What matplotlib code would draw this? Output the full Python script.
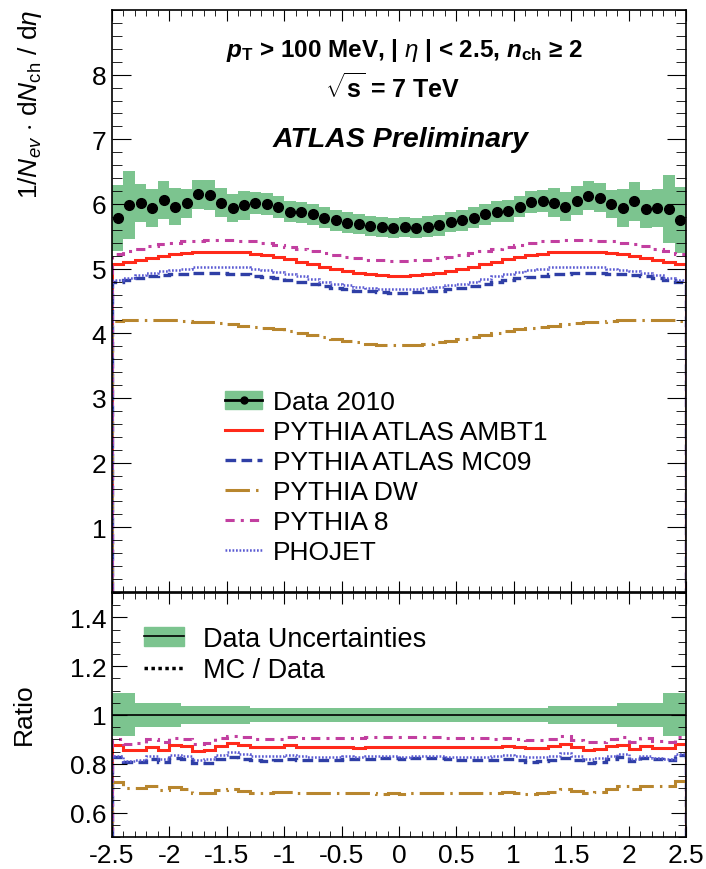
# ATLAS charged particle pseudorapidity distribution with MC / Data ratio
import numpy as np
import matplotlib.pyplot as plt
from matplotlib.patches import Patch
from matplotlib.lines import Line2D
from matplotlib.ticker import MultipleLocator

plt.rcParams['font.family'] = ['Liberation Sans', 'DejaVu Sans']
plt.rcParams['mathtext.fontset'] = 'custom'
plt.rcParams['mathtext.rm'] = 'Liberation Sans'
plt.rcParams['mathtext.it'] = 'Liberation Sans:italic'
plt.rcParams['mathtext.bf'] = 'Liberation Sans:bold'
plt.rcParams['mathtext.bfit'] = 'Liberation Sans:bold:italic'

# eta binning (50 bins of 0.1)
eta_edges = np.linspace(-2.5, 2.5, 51)
eta_centers = 0.5 * (eta_edges[:-1] + eta_edges[1:])

# Data 2010 (1/Nev dNch/deta)
data = [5.79, 5.98, 6.01, 5.94, 6.06, 5.96, 6.01, 6.15, 6.14, 6.02,
        5.94, 5.98, 6.01, 6.00, 5.95, 5.88, 5.87, 5.84, 5.79, 5.75,
        5.71, 5.69, 5.66, 5.64, 5.63, 5.64, 5.63, 5.65, 5.67, 5.72,
        5.75, 5.79, 5.84, 5.88, 5.89, 5.96, 6.03, 6.04, 6.02, 5.96,
        6.05, 6.13, 6.10, 6.00, 5.94, 6.04, 5.92, 5.94, 5.92, 5.75]

# relative data uncertainty per bin
rel_err = [0.088, 0.088, 0.049, 0.049, 0.049, 0.049, 0.037, 0.037, 0.037, 0.037,
           0.037, 0.037, 0.028, 0.028, 0.028, 0.028, 0.028, 0.028, 0.028, 0.028,
           0.028, 0.028, 0.028, 0.028, 0.028, 0.028, 0.028, 0.028, 0.028, 0.028,
           0.028, 0.028, 0.028, 0.028, 0.028, 0.028, 0.028, 0.028, 0.037, 0.037,
           0.037, 0.037, 0.037, 0.037, 0.049, 0.049, 0.049, 0.049, 0.088, 0.088]

# MC predictions
ambt1 = [5.07, 5.11, 5.14, 5.17, 5.20, 5.22, 5.24, 5.25, 5.26, 5.26,
         5.26, 5.25, 5.23, 5.21, 5.18, 5.15, 5.11, 5.07, 5.03, 4.99,
         4.96, 4.93, 4.91, 4.90, 4.89, 4.89, 4.90, 4.91, 4.93, 4.96,
         4.99, 5.03, 5.07, 5.11, 5.15, 5.18, 5.21, 5.23, 5.25, 5.26,
         5.26, 5.26, 5.25, 5.24, 5.22, 5.20, 5.17, 5.14, 5.11, 5.07]
mc09 = [4.80, 4.83, 4.86, 4.88, 4.90, 4.91, 4.92, 4.93, 4.93, 4.93,
        4.92, 4.91, 4.89, 4.87, 4.85, 4.82, 4.79, 4.76, 4.73, 4.70,
        4.68, 4.66, 4.65, 4.64, 4.63, 4.63, 4.64, 4.65, 4.66, 4.68,
        4.70, 4.73, 4.76, 4.79, 4.82, 4.85, 4.87, 4.89, 4.91, 4.92,
        4.93, 4.93, 4.93, 4.92, 4.91, 4.90, 4.88, 4.86, 4.83, 4.80]
dw = [4.19, 4.20, 4.20, 4.20, 4.20, 4.20, 4.19, 4.18, 4.17, 4.16,
      4.14, 4.12, 4.10, 4.08, 4.06, 4.03, 4.00, 3.97, 3.94, 3.91,
      3.88, 3.86, 3.84, 3.82, 3.82, 3.82, 3.82, 3.84, 3.86, 3.88,
      3.91, 3.94, 3.97, 4.00, 4.03, 4.06, 4.08, 4.10, 4.12, 4.14,
      4.16, 4.17, 4.18, 4.19, 4.20, 4.20, 4.20, 4.20, 4.20, 4.19]
pythia8 = [5.22, 5.27, 5.31, 5.35, 5.38, 5.40, 5.42, 5.43, 5.44, 5.44,
           5.44, 5.43, 5.42, 5.40, 5.37, 5.34, 5.31, 5.28, 5.24, 5.21,
           5.18, 5.16, 5.14, 5.13, 5.12, 5.12, 5.13, 5.14, 5.16, 5.18,
           5.21, 5.24, 5.28, 5.31, 5.34, 5.37, 5.40, 5.42, 5.43, 5.44,
           5.44, 5.44, 5.43, 5.42, 5.40, 5.38, 5.35, 5.31, 5.27, 5.22]
phojet = [4.82, 4.86, 4.90, 4.93, 4.96, 4.98, 5.00, 5.02, 5.03, 5.03,
          5.03, 5.02, 5.00, 4.98, 4.95, 4.92, 4.88, 4.84, 4.80, 4.77,
          4.74, 4.72, 4.70, 4.69, 4.68, 4.68, 4.69, 4.70, 4.72, 4.74,
          4.77, 4.80, 4.84, 4.88, 4.92, 4.95, 4.98, 5.00, 5.02, 5.03,
          5.03, 5.03, 5.02, 5.00, 4.98, 4.96, 4.93, 4.90, 4.86, 4.82]

mc_labels = ['PYTHIA ATLAS AMBT1', 'PYTHIA ATLAS MC09', 'PYTHIA DW', 'PYTHIA 8', 'PHOJET']
mc_values = [ambt1, mc09, dw, pythia8, phojet]
mc_colors = ['#ff2a1a', '#2f3fa6', '#b8862e', '#c23fa0', '#5a5ad2']
mc_styles = ['-', (0, (3.2, 1.6)), (0, (8, 2, 0.8, 2)), (0, (3, 2, 1, 2)), (0, (0.7, 0.7))]
mc_widths = [2.2, 2.4, 2.2, 2.2, 1.8]

x_ticks = [-2.5, -2, -1.5, -1, -0.5, 0, 0.5, 1, 1.5, 2, 2.5]
x_ticklabels = ['-2.5', '-2', '-1.5', '-1', '-0.5', '0', '0.5', '1', '1.5', '2', '2.5']
band_color = '#7cc48f'

data = np.array(data)
rel_err = np.array(rel_err)

fig = plt.figure(figsize=(7.06, 8.70), dpi=100)
ax = fig.add_axes([0.1586, 0.3184, 0.8131, 0.669])
axr = fig.add_axes([0.1586, 0.0368, 0.8131, 0.2805])

# --- main panel ---
ax.stairs(data * (1 + rel_err), eta_edges, baseline=data * (1 - rel_err),
          fill=True, color=band_color, linewidth=0)
for vals, col, ls, lw in zip(mc_values, mc_colors, mc_styles, mc_widths):
    ax.stairs(vals, eta_edges, color=col, linestyle=ls, linewidth=lw)
ax.plot(eta_centers, data, 'o', color='black', markersize=7, zorder=5)

ax.set_xlim(-2.5, 2.5)
ax.set_ylim(0, 9)
ax.set_yticks(range(1, 9))
ax.yaxis.set_minor_locator(MultipleLocator(0.2))
ax.set_xticks(x_ticks)
ax.xaxis.set_minor_locator(MultipleLocator(0.1))
ax.tick_params(labelbottom=False)

fig.text(404 / 706, 1 - 51 / 870,
         r'$\mathbfit{p}_{\mathbf{T}}$ > 100 MeV, | $\eta$ | < 2.5, $\mathbfit{n}_{\mathbf{ch}}$ ≥ 2',
         ha='center', va='center', fontsize=17.5, fontweight='bold')
fig.text(393 / 706, 1 - 88 / 870, r'$\sqrt{\mathbf{s}}$ = 7 TeV',
         ha='center', va='center', fontsize=18, fontweight='bold')
fig.text(401 / 706, 1 - 140 / 870, 'ATLAS Preliminary',
         ha='center', va='center', fontsize=20.5, fontweight='bold', style='italic')

fig.text(30 / 706, 1 - 10 / 870, r'1/$N_{ev}$ $\cdot$ d$N_{\mathrm{ch}}$ / d$\eta$',
         rotation=90, ha='center', va='top', fontsize=19)

handles = [(Patch(color=band_color), Line2D([], [], color='black', marker='o', markersize=5, lw=2))]
for col, ls, lw in zip(mc_colors, mc_styles, mc_widths):
    handles.append(Line2D([], [], color=col, linestyle=ls, linewidth=lw))
ax.legend(handles, ['Data 2010'] + mc_labels, loc='upper left',
          bbox_to_anchor=(0.197, 0.347), frameon=False, fontsize=19,
          borderpad=0, borderaxespad=0, handlelength=1.4, handletextpad=0.4,
          labelspacing=0.23)

# --- ratio panel ---
axr.stairs(1 + rel_err, eta_edges, baseline=1 - rel_err, fill=True,
           color=band_color, linewidth=0)
axr.axhline(1, color='black', linewidth=1.2)
for vals, col, ls, lw in zip(mc_values, mc_colors, mc_styles, mc_widths):
    axr.stairs(np.array(vals) / data, eta_edges, color=col, linestyle=ls, linewidth=lw)

axr.set_xlim(-2.5, 2.5)
axr.set_ylim(0.5, 1.5)
axr.set_yticks([0.6, 0.8, 1.0, 1.2, 1.4])
axr.set_yticklabels(['0.6', '0.8', '1', '1.2', '1.4'])
axr.yaxis.set_minor_locator(MultipleLocator(0.05))
axr.set_xticks(x_ticks)
axr.set_xticklabels(x_ticklabels)
axr.xaxis.set_minor_locator(MultipleLocator(0.1))

fig.text(24 / 706, 1 - 714 / 870, 'Ratio', rotation=90, ha='center', va='center', fontsize=19)

rhandles = [(Patch(color=band_color), Line2D([], [], color='black', lw=1.2)),
            Line2D([], [], color='black', linestyle=(0, (1, 1)), lw=2.5)]
axr.legend(rhandles, ['Data Uncertainties', 'MC / Data'], loc='upper left',
           bbox_to_anchor=(0.055, 0.865), frameon=False, fontsize=19.5,
           borderpad=0, borderaxespad=0, handlelength=1.5, handletextpad=0.7,
           labelspacing=0.2)

for a in (ax, axr):
    a.tick_params(which='both', direction='in', top=True, right=True, labelsize=19, pad=4)
    for s in a.spines.values():
        s.set_linewidth(1.2)
ax.tick_params(axis='y', which='major', length=14)
ax.tick_params(axis='y', which='minor', length=7)
ax.tick_params(axis='x', which='major', length=8)
ax.tick_params(axis='x', which='minor', length=4)
axr.tick_params(axis='y', which='major', length=11)
axr.tick_params(axis='y', which='minor', length=5.5)
axr.tick_params(axis='x', which='major', length=8)
axr.tick_params(axis='x', which='minor', length=4)

fig.savefig('out.png', dpi=100)
